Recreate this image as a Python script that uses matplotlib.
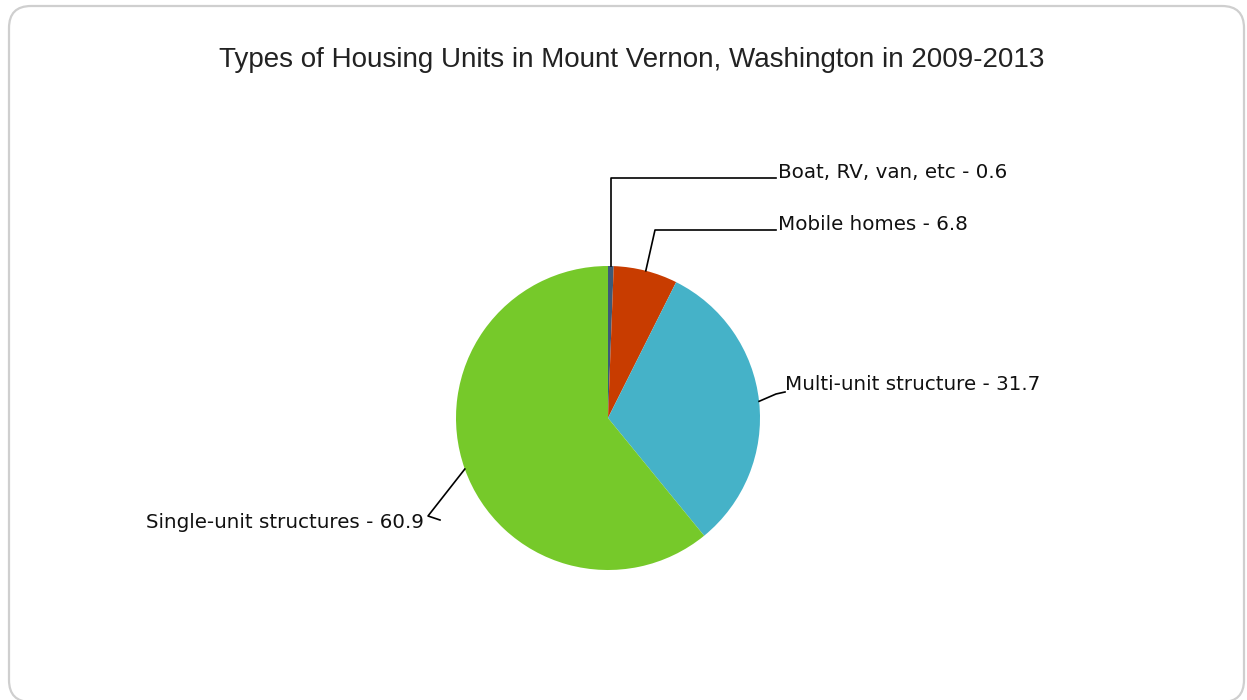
import numpy as np
import matplotlib.pyplot as plt
from matplotlib.patches import FancyBboxPatch

categories = ['Boat, RV, van, etc', 'Mobile homes', 'Multi-unit structure', 'Single-unit structures']
values = [0.6, 6.8, 31.7, 60.9]
colors = ['#3c5a78', '#c83c00', '#45b2c8', '#76c92a']

W, H = 1247, 700
fig = plt.figure(figsize=(W / 100, H / 100), dpi=100)
ax = fig.add_axes([0, 0, 1, 1])

# rounded frame
frame = FancyBboxPatch((9, -2), W - 12, H - 4, boxstyle='round,pad=0,rounding_size=22',
                       fc='white', ec='#cfcfcf', lw=1.6, transform=ax.transData, zorder=0)
ax.add_patch(frame)

ax.text(632, H - 60, 'Types of Housing Units in Mount Vernon, Washington in 2009-2013',
        ha='center', va='center', fontsize=20, family='Liberation Sans', color='#222222')

cx, cy, r = 608, H - 418, 152
wedges, _ = ax.pie(values, colors=colors, startangle=90, counterclock=False,
                   center=(cx, cy), radius=r, frame=True,
                   wedgeprops=dict(linewidth=0))
ax.set_xlim(0, W)
ax.set_ylim(0, H)
ax.set_aspect('equal')
ax.axis('off')

# leader lines and labels
cum = np.cumsum(values) - np.array(values) / 2
ang = np.deg2rad(90 - cum / 100 * 360)
ax_pts = [(cx + r * np.cos(a), cy + r * np.sin(a)) for a in ang]
lab_font = dict(fontsize=14.3, family='DejaVu Sans', color='#111111', va='center')

# Boat
x0, y0 = ax_pts[0]
ax.plot([x0, x0, 776], [y0, H - 178, H - 178], color='black', lw=1.2)
ax.text(778, H - 172, f'{categories[0]} - {values[0]}', ha='left', **lab_font)
# Mobile
x0, y0 = ax_pts[1]
ax.plot([x0, 655, 776], [y0, H - 230, H - 230], color='black', lw=1.2)
ax.text(778, H - 224, f'{categories[1]} - {values[1]}', ha='left', **lab_font)
# Multi
x0, y0 = ax_pts[2]
ax.plot([x0, 776, 785], [y0, H - 394, H - 392], color='black', lw=1.2)
ax.text(785, H - 384, f'{categories[2]} - {values[2]}', ha='left', **lab_font)
# Single
x0, y0 = ax_pts[3]
ax.plot([x0, 428, 440], [y0, H - 516, H - 520], color='black', lw=1.2)
ax.text(424, H - 522, f'{categories[3]} - {values[3]}', ha='right', **lab_font)

fig.savefig('out.png', dpi=100, facecolor='white')
